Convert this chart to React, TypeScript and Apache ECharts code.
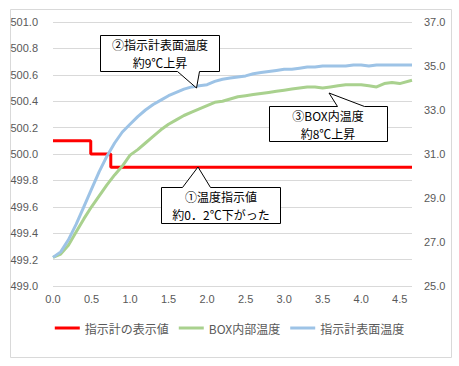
import React, { useEffect, useRef } from "react";
import * as echarts from "echarts";

// elapsed time (x)
const xs = [0.0, 0.1, 0.2, 0.3, 0.4, 0.5, 0.6, 0.7, 0.8, 0.9, 1.0, 1.1, 1.2, 1.3, 1.4, 1.5, 1.6, 1.7, 1.8, 1.9, 2.0, 2.1, 2.2, 2.3, 2.4, 2.5, 2.6, 2.7, 2.8, 2.9, 3.0, 3.1, 3.2, 3.3, 3.4, 3.5, 3.6, 3.7, 3.8, 3.9, 4.0, 4.1, 4.2, 4.3, 4.4, 4.5, 4.66];
// BOX内部温度 (right axis)
const boxTemp = [26.3, 26.45, 26.85, 27.45, 28.05, 28.6, 29.1, 29.6, 30.05, 30.45, 30.95, 31.2, 31.5, 31.8, 32.1, 32.35, 32.55, 32.75, 32.9, 33.05, 33.2, 33.35, 33.4, 33.5, 33.6, 33.65, 33.7, 33.75, 33.8, 33.85, 33.9, 33.95, 34.0, 34.05, 34.05, 34.0, 34.05, 34.1, 34.15, 34.15, 34.15, 34.1, 34.05, 34.2, 34.25, 34.2, 34.35];
// 指示計表面温度 (right axis)
const surfTemp = [26.3, 26.55, 27.1, 27.8, 28.6, 29.4, 30.2, 30.9, 31.5, 32.0, 32.35, 32.7, 33.0, 33.25, 33.45, 33.65, 33.8, 33.95, 34.05, 34.1, 34.15, 34.3, 34.4, 34.45, 34.5, 34.55, 34.65, 34.7, 34.75, 34.8, 34.85, 34.85, 34.9, 34.95, 34.95, 35.0, 35.0, 35.0, 35.0, 35.05, 35.05, 35.0, 35.05, 35.05, 35.05, 35.05, 35.05];
// 指示計の表示値 (left axis, stepped)
const dispX = [0.0, 0.49, 0.49, 0.75, 0.75, 4.66];
const dispVal = [500.1, 500.1, 500.0, 500.0, 499.9, 499.9];

const legendNames = ["指示計の表示値", "BOX内部温度", "指示計表面温度"];
const colors = ["#ff0000", "#a9d18e", "#9dc3e6"];

const CJK = '"Noto Sans CJK JP", sans-serif';

function callout(points: number[][], lines: string[], cx: number, ys: number[]) {
  const els: any[] = [
    {
      type: "polygon",
      shape: { points },
      style: { fill: "#ffffff", stroke: "#000000", lineWidth: 1 },
      z: 100,
    },
  ];
  lines.forEach((t, i) => {
    els.push({
      type: "text",
      x: cx,
      y: ys[i],
      style: {
        text: t,
        fill: "#000000",
        font: `12px ${CJK}`,
        align: "center",
        verticalAlign: "middle",
      },
      z: 101,
    });
  });
  return els;
}

export default function App() {
  const ref = useRef<HTMLDivElement>(null);
  useEffect(() => {
    document.body.style.margin = "0";
    const chart = echarts.init(ref.current!, null, { renderer: "svg" });
    const graphic = [
      {
        type: "rect",
        shape: { x: 10.5, y: 9.5, width: 441, height: 348 },
        style: { fill: "none", stroke: "#d9d9d9", lineWidth: 1 },
        z: 0,
      },
      ...callout(
        [[100.5, 35.5], [219.5, 35.5], [219.5, 71.5], [199.5, 71.5], [196.5, 88], [177.5, 71.5], [100.5, 71.5]],
        ["②指示計表面温度", "約9℃上昇"],
        160,
        [44.5, 62]
      ),
      ...callout(
        [[269.5, 106.5], [337.5, 106.5], [329, 93], [364.5, 106.5], [387.5, 106.5], [387.5, 141.5], [269.5, 141.5]],
        ["③BOX内温度", "約8℃上昇"],
        328,
        [115.5, 133]
      ),
      ...callout(
        [[161.5, 187.5], [182.5, 187.5], [198, 167], [210.5, 187.5], [280.5, 187.5], [280.5, 223.5], [161.5, 223.5]],
        ["①温度指示値", "約0．2℃下がった"],
        221,
        [196.5, 214]
      ),
    ];
    chart.setOption({
      animation: false,
      grid: { left: 53, right: 47, top: 22, bottom: 80, containLabel: false },
      legend: {
        data: legendNames,
        bottom: 27,
        left: "center",
        icon: "rect",
        itemWidth: 25,
        itemHeight: 3,
        itemGap: 10,
        textStyle: { fontFamily: CJK, fontSize: 12, color: "#595959" },
      },
      xAxis: {
        type: "value",
        min: 0,
        max: 4.66,
        interval: 0.5,
        axisLine: { show: false },
        axisTick: { show: false },
        splitLine: { show: false },
        axisLabel: {
          color: "#595959",
          fontFamily: "Liberation Sans",
          fontSize: 11,
          margin: 7,
          showMaxLabel: false,
          formatter: (v: number) => v.toFixed(1),
        },
      },
      yAxis: [
        {
          type: "value",
          min: 499,
          max: 501,
          interval: 0.2,
          axisLine: { show: false },
          axisTick: { show: false },
          splitLine: { lineStyle: { color: "#d9d9d9", width: 1 } },
          axisLabel: {
            color: "#595959",
            fontFamily: "Liberation Sans",
            fontSize: 11,
            margin: 15,
            formatter: (v: number) => v.toFixed(1),
          },
        },
        {
          type: "value",
          min: 25,
          max: 37,
          interval: 2,
          position: "right",
          axisLine: { show: false },
          axisTick: { show: false },
          splitLine: { show: false },
          axisLabel: {
            color: "#595959",
            fontFamily: "Liberation Sans",
            fontSize: 11,
            margin: 12,
            formatter: (v: number) => v.toFixed(1),
          },
        },
      ],
      series: [
        {
          name: legendNames[0],
          type: "line",
          yAxisIndex: 0,
          showSymbol: false,
          color: colors[0],
          lineStyle: { width: 3, color: colors[0] },
          data: dispX.map((x, i) => [x, dispVal[i]]),
        },
        {
          name: legendNames[1],
          type: "line",
          yAxisIndex: 1,
          showSymbol: false,
          color: colors[1],
          lineStyle: { width: 3, color: colors[1] },
          data: xs.map((x, i) => [x, boxTemp[i]]),
        },
        {
          name: legendNames[2],
          type: "line",
          yAxisIndex: 1,
          showSymbol: false,
          color: colors[2],
          lineStyle: { width: 3, color: colors[2] },
          data: xs.map((x, i) => [x, surfTemp[i]]),
        },
      ],
      graphic,
    });
    return () => chart.dispose();
  }, []);
  return <div ref={ref} style={{ width: 459, height: 366 }} />;
}
